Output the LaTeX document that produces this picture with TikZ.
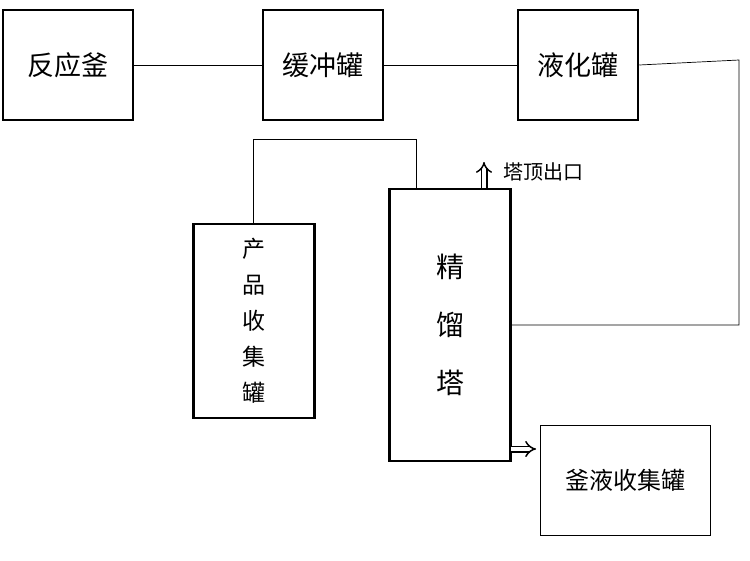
\documentclass[tikz,border=0pt]{standalone}
\usepackage{fontspec}
\newfontfamily\cjk{Noto Sans CJK SC}
\usetikzlibrary{positioning, arrows.meta}
\tikzset{
    tank/.style={draw, line width=2.5pt, font=\cjk\fontsize{27}{30}\selectfont, inner sep=0pt},
    pipe/.style={draw, line width=0.7pt},
    hollow/.style={draw=black, line width=1.5pt, double=white, double distance=4pt, -Implies}
}
\begin{document}
\begin{tikzpicture}[x=1pt, y=-1pt]
    \useasboundingbox (0,0) rectangle (750,560);
    % top row
    \node[tank, minimum width=130pt, minimum height=110pt] (reactor) at (68,65) {反应釜};
    \node[tank, minimum width=120pt, minimum height=110pt] (buffer) at (323,65) {缓冲罐};
    \node[tank, minimum width=120pt, minimum height=110pt] (liquefier) at (578,65) {液化罐};
    % column and receivers
    \node[tank, minimum width=121pt, minimum height=272pt, align=center,
          font=\cjk\fontsize{28}{58}\selectfont] (column) at (450,325) {精\\馏\\塔};
    \node[tank, minimum width=121pt, minimum height=194pt, align=center,
          font=\cjk\fontsize{23}{36}\selectfont] (product) at (254,321) {产\\品\\收\\集\\罐};
    \node[tank, line width=1pt, font=\cjk\fontsize{24}{28}\selectfont,
          minimum width=170pt, minimum height=110pt] (residue) at (625,480) {釜液收集罐};
    % pipes
    \draw[pipe] (reactor.east) -- (buffer.west);
    \draw[pipe] (buffer.east) -- (liquefier.west);
    \coordinate (c1) at (739,60);
    \coordinate (c2) at (739,325);
    \draw[pipe] (liquefier.east) -- (c1) -- (c2) -- (c2 -| column.east);
    \coordinate (c3) at (253,139);
    \coordinate (c4) at (416,139);
    \draw[pipe] (c3 |- product.north) -- (c3) -- (c4) -- (c4 |- column.north);
    % outlets
    \coordinate (top) at (484,188);
    \coordinate (topend) at (484,162);
    \draw[hollow] (top) -- (topend);
    \node[font=\cjk\fontsize{20}{22}\selectfont, anchor=west] (toplabel) at (500,172) {塔顶出口};
    \coordinate (bottom) at (511,449);
    \coordinate (bottomend) at (536,449);
    \draw[hollow] (bottom) -- (bottomend);
\end{tikzpicture}
\end{document}
